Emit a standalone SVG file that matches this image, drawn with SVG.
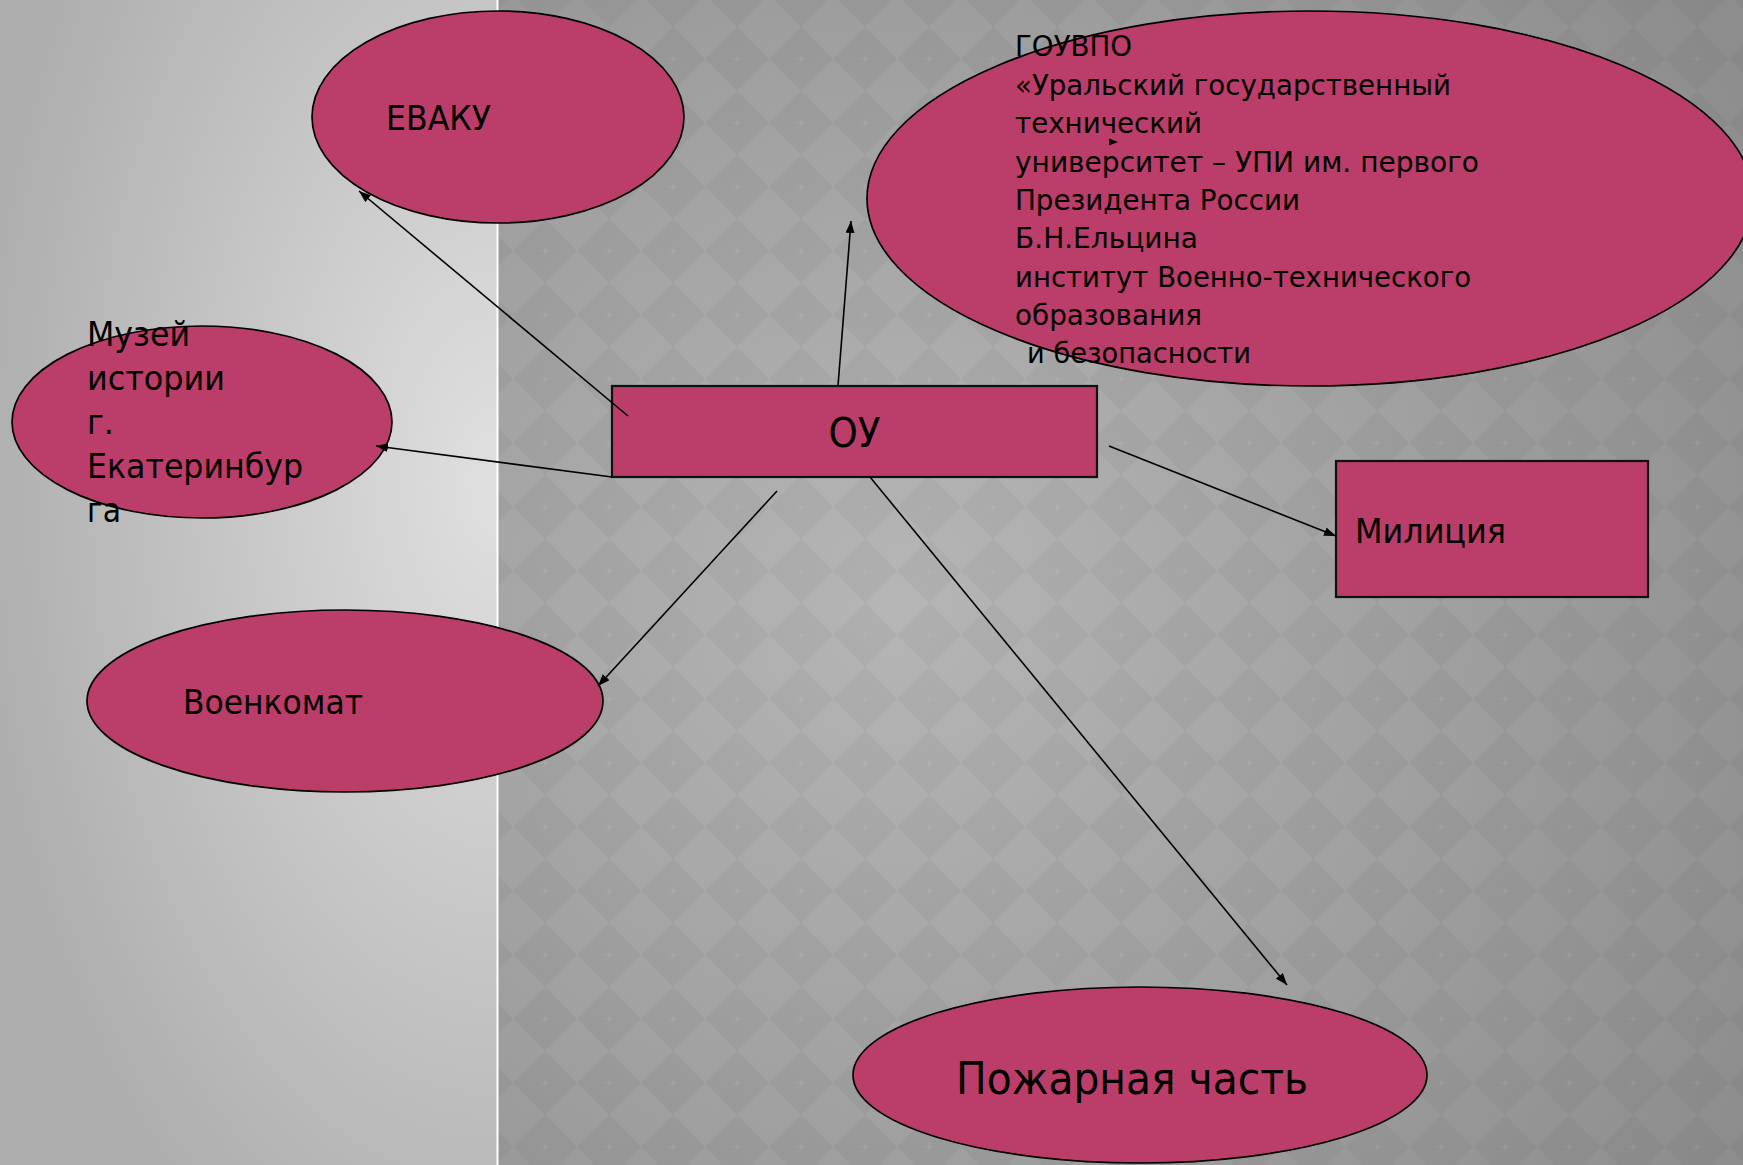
<svg xmlns="http://www.w3.org/2000/svg" width="1743" height="1165" viewBox="0 0 1743 1165">
  <defs>
    <radialGradient id="leftBg" gradientUnits="userSpaceOnUse" cx="498" cy="480" r="520" gradientTransform="translate(498 480) scale(1 1.73) translate(-498 -480)">
      <stop offset="0" stop-color="#e0e0e0"/>
      <stop offset="1" stop-color="#aeaeae"/>
    </radialGradient>
    <radialGradient id="rightBg" gradientUnits="userSpaceOnUse" cx="900" cy="600" r="1050">
      <stop offset="0" stop-color="#b6b6b6"/>
      <stop offset="1" stop-color="#8b8b8b"/>
    </radialGradient>
    <pattern id="diam" width="64" height="64" patternUnits="userSpaceOnUse" x="1" y="27">
      <polygon points="32,0 64,32 32,64 0,32" fill="#000" fill-opacity="0.035"/>
      <path d="M28,32 H36 M32,28 V36" stroke="#fff" stroke-opacity="0.09" stroke-width="1"/>
    </pattern>
    <marker id="arr" markerUnits="userSpaceOnUse" markerWidth="13" markerHeight="9" refX="12" refY="4.5" orient="auto">
      <path d="M0,0 L12,4.5 L0,9 Z" fill="#000"/>
    </marker>
  </defs>
  <style>
    .node { fill: #bb3d69; stroke: #000; stroke-width: 1.7; }
    .box { fill: #bb3d69; stroke: #111; stroke-width: 2.2; }
    .lbl { font-family: "DejaVu Sans", "Liberation Sans", sans-serif; fill: #000; }
    .conn { stroke: #000; stroke-width: 1.6; fill: none; marker-end: url(#arr); }
  </style>

  <!-- background -->
  <rect x="0" y="0" width="498" height="1165" fill="url(#leftBg)"/>
  <rect x="498" y="0" width="1245" height="1165" fill="url(#rightBg)"/>
  <rect x="498" y="0" width="1245" height="1165" fill="url(#diam)"/>
  <line x1="497.5" y1="0" x2="497.5" y2="1165" stroke="#fff" stroke-width="2"/>

  <g id="node-evaku">
    <ellipse class="node" cx="498" cy="117" rx="186" ry="106"/>
    <text class="lbl" x="386" y="130" font-size="34" textLength="105" lengthAdjust="spacingAndGlyphs">ЕВАКУ</text>
  </g>

  <g id="node-ugtu">
    <ellipse class="node" cx="1310" cy="198.5" rx="443" ry="187.5"/>
    <g class="lbl" font-size="28">
      <text x="1015" y="56" textLength="117" lengthAdjust="spacingAndGlyphs">ГОУВПО</text>
      <text x="1015" y="95" textLength="436" lengthAdjust="spacingAndGlyphs">«Уральский государственный</text>
      <text x="1015" y="133" textLength="187" lengthAdjust="spacingAndGlyphs">технический</text>
      <text x="1015" y="172" textLength="464" lengthAdjust="spacingAndGlyphs">университет – УПИ им. первого</text>
      <text x="1015" y="210" textLength="285" lengthAdjust="spacingAndGlyphs">Президента России</text>
      <text x="1015" y="248" textLength="183" lengthAdjust="spacingAndGlyphs">Б.Н.Ельцина</text>
      <text x="1015" y="287" textLength="456" lengthAdjust="spacingAndGlyphs">институт Военно-технического</text>
      <text x="1015" y="325" textLength="187" lengthAdjust="spacingAndGlyphs">образования</text>
      <text x="1027" y="363" textLength="224" lengthAdjust="spacingAndGlyphs">и безопасности</text>
    </g>
  </g>

  <g id="node-museum">
    <ellipse class="node" cx="202" cy="422" rx="190" ry="96"/>
    <g class="lbl" font-size="34">
      <text x="87" y="346" textLength="103" lengthAdjust="spacingAndGlyphs">Музей</text>
      <text x="87" y="390" textLength="138" lengthAdjust="spacingAndGlyphs">истории</text>
      <text x="87" y="434" textLength="27" lengthAdjust="spacingAndGlyphs">г.</text>
      <text x="87" y="478" textLength="216" lengthAdjust="spacingAndGlyphs">Екатеринбур</text>
      <text x="87" y="522" textLength="34" lengthAdjust="spacingAndGlyphs">га</text>
    </g>
  </g>

  <g id="node-ou">
    <rect class="box" x="612" y="386" width="485" height="91"/>
    <text class="lbl" x="854.5" y="447" font-size="41" text-anchor="middle" textLength="52" lengthAdjust="spacingAndGlyphs">ОУ</text>
  </g>

  <g id="node-militsiya">
    <rect class="box" x="1336" y="461" width="312" height="136"/>
    <text class="lbl" x="1355" y="543" font-size="34" textLength="151" lengthAdjust="spacingAndGlyphs">Милиция</text>
  </g>

  <g id="node-voenkomat">
    <ellipse class="node" cx="345" cy="701" rx="258" ry="91"/>
    <text class="lbl" x="183" y="714" font-size="33" textLength="180" lengthAdjust="spacingAndGlyphs">Военкомат</text>
  </g>

  <g id="node-pozhar">
    <ellipse class="node" cx="1140" cy="1075" rx="287" ry="88"/>
    <text class="lbl" x="956" y="1094" font-size="44" textLength="352" lengthAdjust="spacingAndGlyphs">Пожарная часть</text>
  </g>

  <g id="connectors">
    <line class="conn" x1="628" y1="416" x2="359" y2="191"/>
    <line class="conn" x1="838" y1="386" x2="851" y2="221"/>
    <line class="conn" x1="612" y1="477" x2="376" y2="446"/>
    <line class="conn" x1="777" y1="491" x2="598" y2="686"/>
    <line class="conn" x1="1109" y1="446" x2="1336" y2="536"/>
    <line class="conn" x1="870" y1="477" x2="1287" y2="985"/>
    <polygon points="1109,138.5 1118,142 1109,145.5" fill="#000"/>
  </g>
</svg>
